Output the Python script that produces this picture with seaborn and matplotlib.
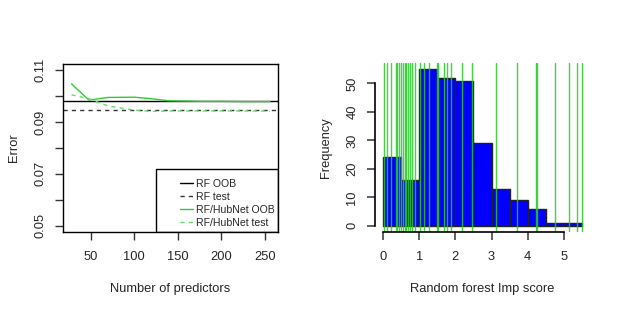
import numpy as np
import pandas as pd
import seaborn as sns
import matplotlib.pyplot as plt
from matplotlib.patches import Rectangle

# left panel: error vs number of predictors
n_pred = [28, 48, 70, 100, 120, 140, 160, 180, 200, 220, 240, 256]
hub_oob = [0.1047, 0.0985, 0.0995, 0.0996, 0.0990, 0.0982, 0.0981, 0.0980, 0.0980, 0.0979, 0.0979, 0.0979]
hub_test = [0.1005, 0.0990, 0.0962, 0.0946, 0.0941, 0.0943, 0.0943, 0.0943, 0.0943, 0.0943, 0.0943, 0.0942]
rf_oob = 0.0981
rf_test = 0.0946

# right panel: histogram of importance scores
bin_edges = [0, 0.5, 1, 1.5, 2, 2.5, 3, 3.5, 4, 4.5, 5, 5.5]
bin_counts = [24, 16, 55, 52, 51, 29, 13, 9, 6, 1, 1]
hub_scores = [0.03, 0.12, 0.23, 0.35, 0.40, 0.44, 0.49, 0.54, 0.61, 0.65, 0.69,
              0.75, 0.79, 0.88, 1.02, 1.13, 1.27, 1.50, 1.52, 1.70, 1.77, 1.89,
              2.19, 2.47, 3.11, 3.70, 4.24, 4.26, 4.74, 5.14, 5.37, 5.51]

sns.set_style("white")
plt.rcParams['font.family'] = ['Liberation Sans', 'DejaVu Sans']
plt.rcParams['font.size'] = 9.3

fig = plt.figure(figsize=(6.23, 3.12), dpi=100)
ax1 = fig.add_axes([63/623, 1-232/312, 215/623, 168/312])
ax2 = fig.add_axes([375/623, 1-232/312, 215/623, 169/312])

green = '#2ecc2e'
lightgreen = '#66dd66'

df = pd.DataFrame({'n': n_pred, 'oob': hub_oob, 'test': hub_test})
ax1.axhline(rf_oob, color='black', lw=1, label='RF OOB')
ax1.axhline(rf_test, color='#333333', lw=1, ls=(0, (3, 3)), label='RF test')
sns.lineplot(data=df, x='n', y='oob', ax=ax1, color=green, lw=1, label='RF/HubNet OOB')
sns.lineplot(data=df, x='n', y='test', ax=ax1, color=lightgreen, lw=1,
             ls=(0, (3, 3)), label='RF/HubNet test')
ax1.set_xlim(18.2, 265.3)
ax1.set_ylim(0.0476, 0.1124)
ax1.set_xticks([50, 100, 150, 200, 250])
ax1.set_yticks([0.05, 0.06, 0.07, 0.08, 0.09, 0.10, 0.11])
ax1.set_yticklabels(['0.05', '', '0.07', '', '0.09', '', '0.11'], rotation=90, va='center')
ax1.set_xlabel('Number of predictors', labelpad=14)
ax1.set_ylabel('Error', labelpad=10)
for s in ax1.spines.values():
    s.set_color('black')
    s.set_linewidth(1)
ax1.tick_params(direction='out', length=6, width=1, color='#333333', pad=8,
                bottom=True, left=True)
ax1.tick_params(axis='y', pad=6)
# legend box, R style (wide left margin)
ax1.add_patch(Rectangle((0.431, 0), 0.569, 0.375, transform=ax1.transAxes,
                        fill=False, edgecolor='black', lw=1, zorder=5))
ax1.legend(loc='upper left', bbox_to_anchor=(0.545, 0.315), frameon=False,
           borderaxespad=0, borderpad=0, labelspacing=0.27,
           handlelength=1.2, handletextpad=0.3, fontsize=7.6)

mids = [(bin_edges[i] + bin_edges[i + 1]) / 2 for i in range(len(bin_counts))]
sns.histplot(x=mids, weights=bin_counts, bins=bin_edges, ax=ax2, color='#0000ff',
             edgecolor='#222222', linewidth=1, alpha=1)
for v in hub_scores:
    ax2.axvline(v, color='#22cc22', lw=1, alpha=0.85)
ax2.set_xlim(-0.22, 5.72)
ax2.set_ylim(-2.2, 57.2)
ax2.set_xticks([0, 1, 2, 3, 4, 5])
ax2.set_yticks([0, 10, 20, 30, 40, 50])
ax2.set_yticklabels(['0', '10', '20', '30', '40', '50'], rotation=90, va='center')
ax2.set_xlabel('Random forest Imp score', labelpad=14)
ax2.set_ylabel('Frequency', labelpad=10)
ax2.spines['top'].set_visible(False)
ax2.spines['right'].set_visible(False)
ax2.spines['left'].set_bounds(0, 50)
ax2.spines['bottom'].set_bounds(0, 5)
for k in ['left', 'bottom']:
    ax2.spines[k].set_color('black')
    ax2.spines[k].set_linewidth(1.2)
ax2.tick_params(direction='out', length=6, width=1.1, color='#333333', pad=8,
                bottom=True, left=True)
ax2.tick_params(axis='y', pad=6)

fig.savefig('out.png', dpi=100)
